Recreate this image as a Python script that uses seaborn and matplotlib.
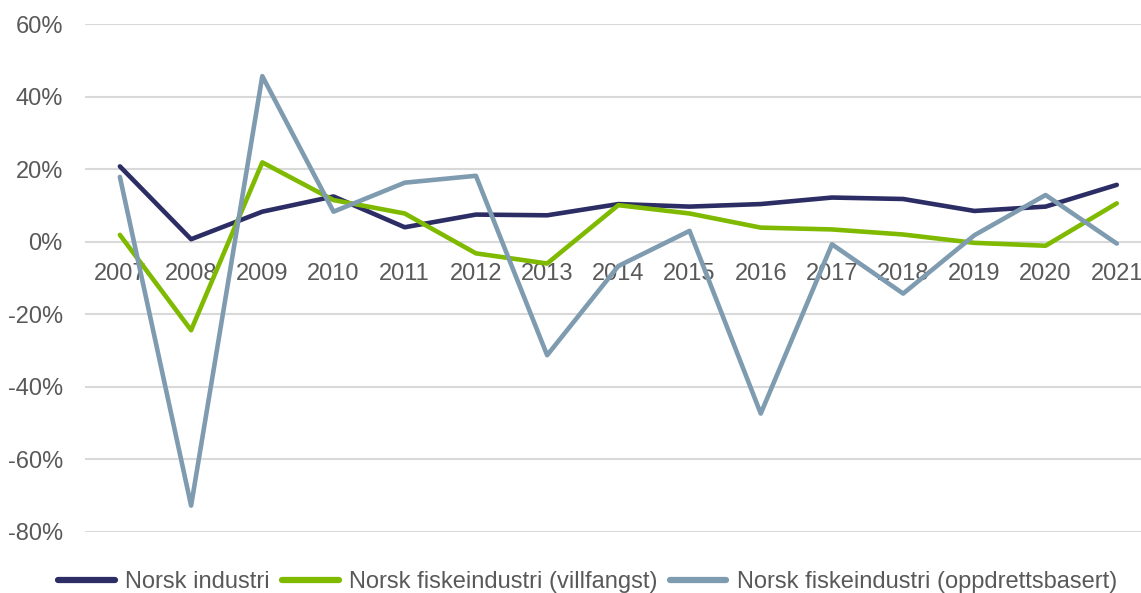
import matplotlib
matplotlib.use("Agg")
import matplotlib.pyplot as plt
import seaborn as sns
import pandas as pd
from matplotlib.ticker import FuncFormatter

years = list(range(2007, 2022))
norsk_industri = [20.8, 0.7, 8.3, 12.5, 4.0, 7.5, 7.3, 10.4, 9.7, 10.4, 12.2, 11.8, 8.5, 9.7, 15.7]
villfangst = [1.9, -24.4, 21.9, 11.5, 7.8, -3.2, -6.0, 10.1, 7.8, 3.9, 3.4, 2.0, -0.3, -1.1, 10.6]
oppdrett = [17.9, -72.8, 45.7, 8.3, 16.3, 18.2, -31.3, -6.7, 3.0, -47.4, -0.7, -14.3, 1.8, 12.9, -0.5]

series_names = [
    "Norsk industri",
    "Norsk fiskeindustri (villfangst)",
    "Norsk fiskeindustri (oppdrettsbasert)",
]
colors = ["#2B2D64", "#7FBA00", "#7F9BB0"]

df = pd.DataFrame({
    "year": years * 3,
    "value": norsk_industri + villfangst + oppdrett,
    "serie": [series_names[0]] * 15 + [series_names[1]] * 15 + [series_names[2]] * 15,
})

sns.set_theme(style="white")
plt.rcParams["font.family"] = ["Liberation Sans", "DejaVu Sans"]
text_color = "#595959"
fs = 17

fig = plt.figure(figsize=(11.41, 5.93), dpi=100)
ax = fig.add_axes([85 / 1141, 1 - 531.7 / 593, 1 - 85 / 1141, (531.7 - 24.3) / 593])

sns.lineplot(data=df, x="year", y="value", hue="serie", palette=colors,
             hue_order=series_names, linewidth=3.3, ax=ax, legend=True)

ax.set_ylim(-80, 60)
ax.set_yticks(range(-80, 61, 20))
ax.yaxis.set_major_formatter(FuncFormatter(lambda v, _: f"{int(v)}%"))
ax.set_xlim(2006.51, 2021.34)
ax.set_xticks(years)
ax.set_xticklabels([str(y) for y in years])

ax.grid(axis="y", color="#D9D9D9", linewidth=1.5)
ax.set_axisbelow(True)
for s in ["top", "right", "left"]:
    ax.spines[s].set_visible(False)
ax.spines["bottom"].set_position(("data", 0))
ax.spines["bottom"].set_visible(False)

ax.tick_params(axis="x", length=0, pad=15, labelsize=fs, colors=text_color)
ax.tick_params(axis="y", length=0, pad=16, labelsize=fs, colors=text_color)
ax.set_xlabel("")
ax.set_ylabel("")

leg = ax.legend(loc="center", bbox_to_anchor=(0.515, 1 - 582 / 593), bbox_transform=fig.transFigure,
                ncol=3, frameon=False, fontsize=fs, handlelength=2.4, handletextpad=0.45,
                columnspacing=0.5, borderaxespad=0)
for t in leg.get_texts():
    t.set_color(text_color)
for h in leg.get_lines():
    h.set_linewidth(4.5)

fig.savefig("out.png", dpi=100)
